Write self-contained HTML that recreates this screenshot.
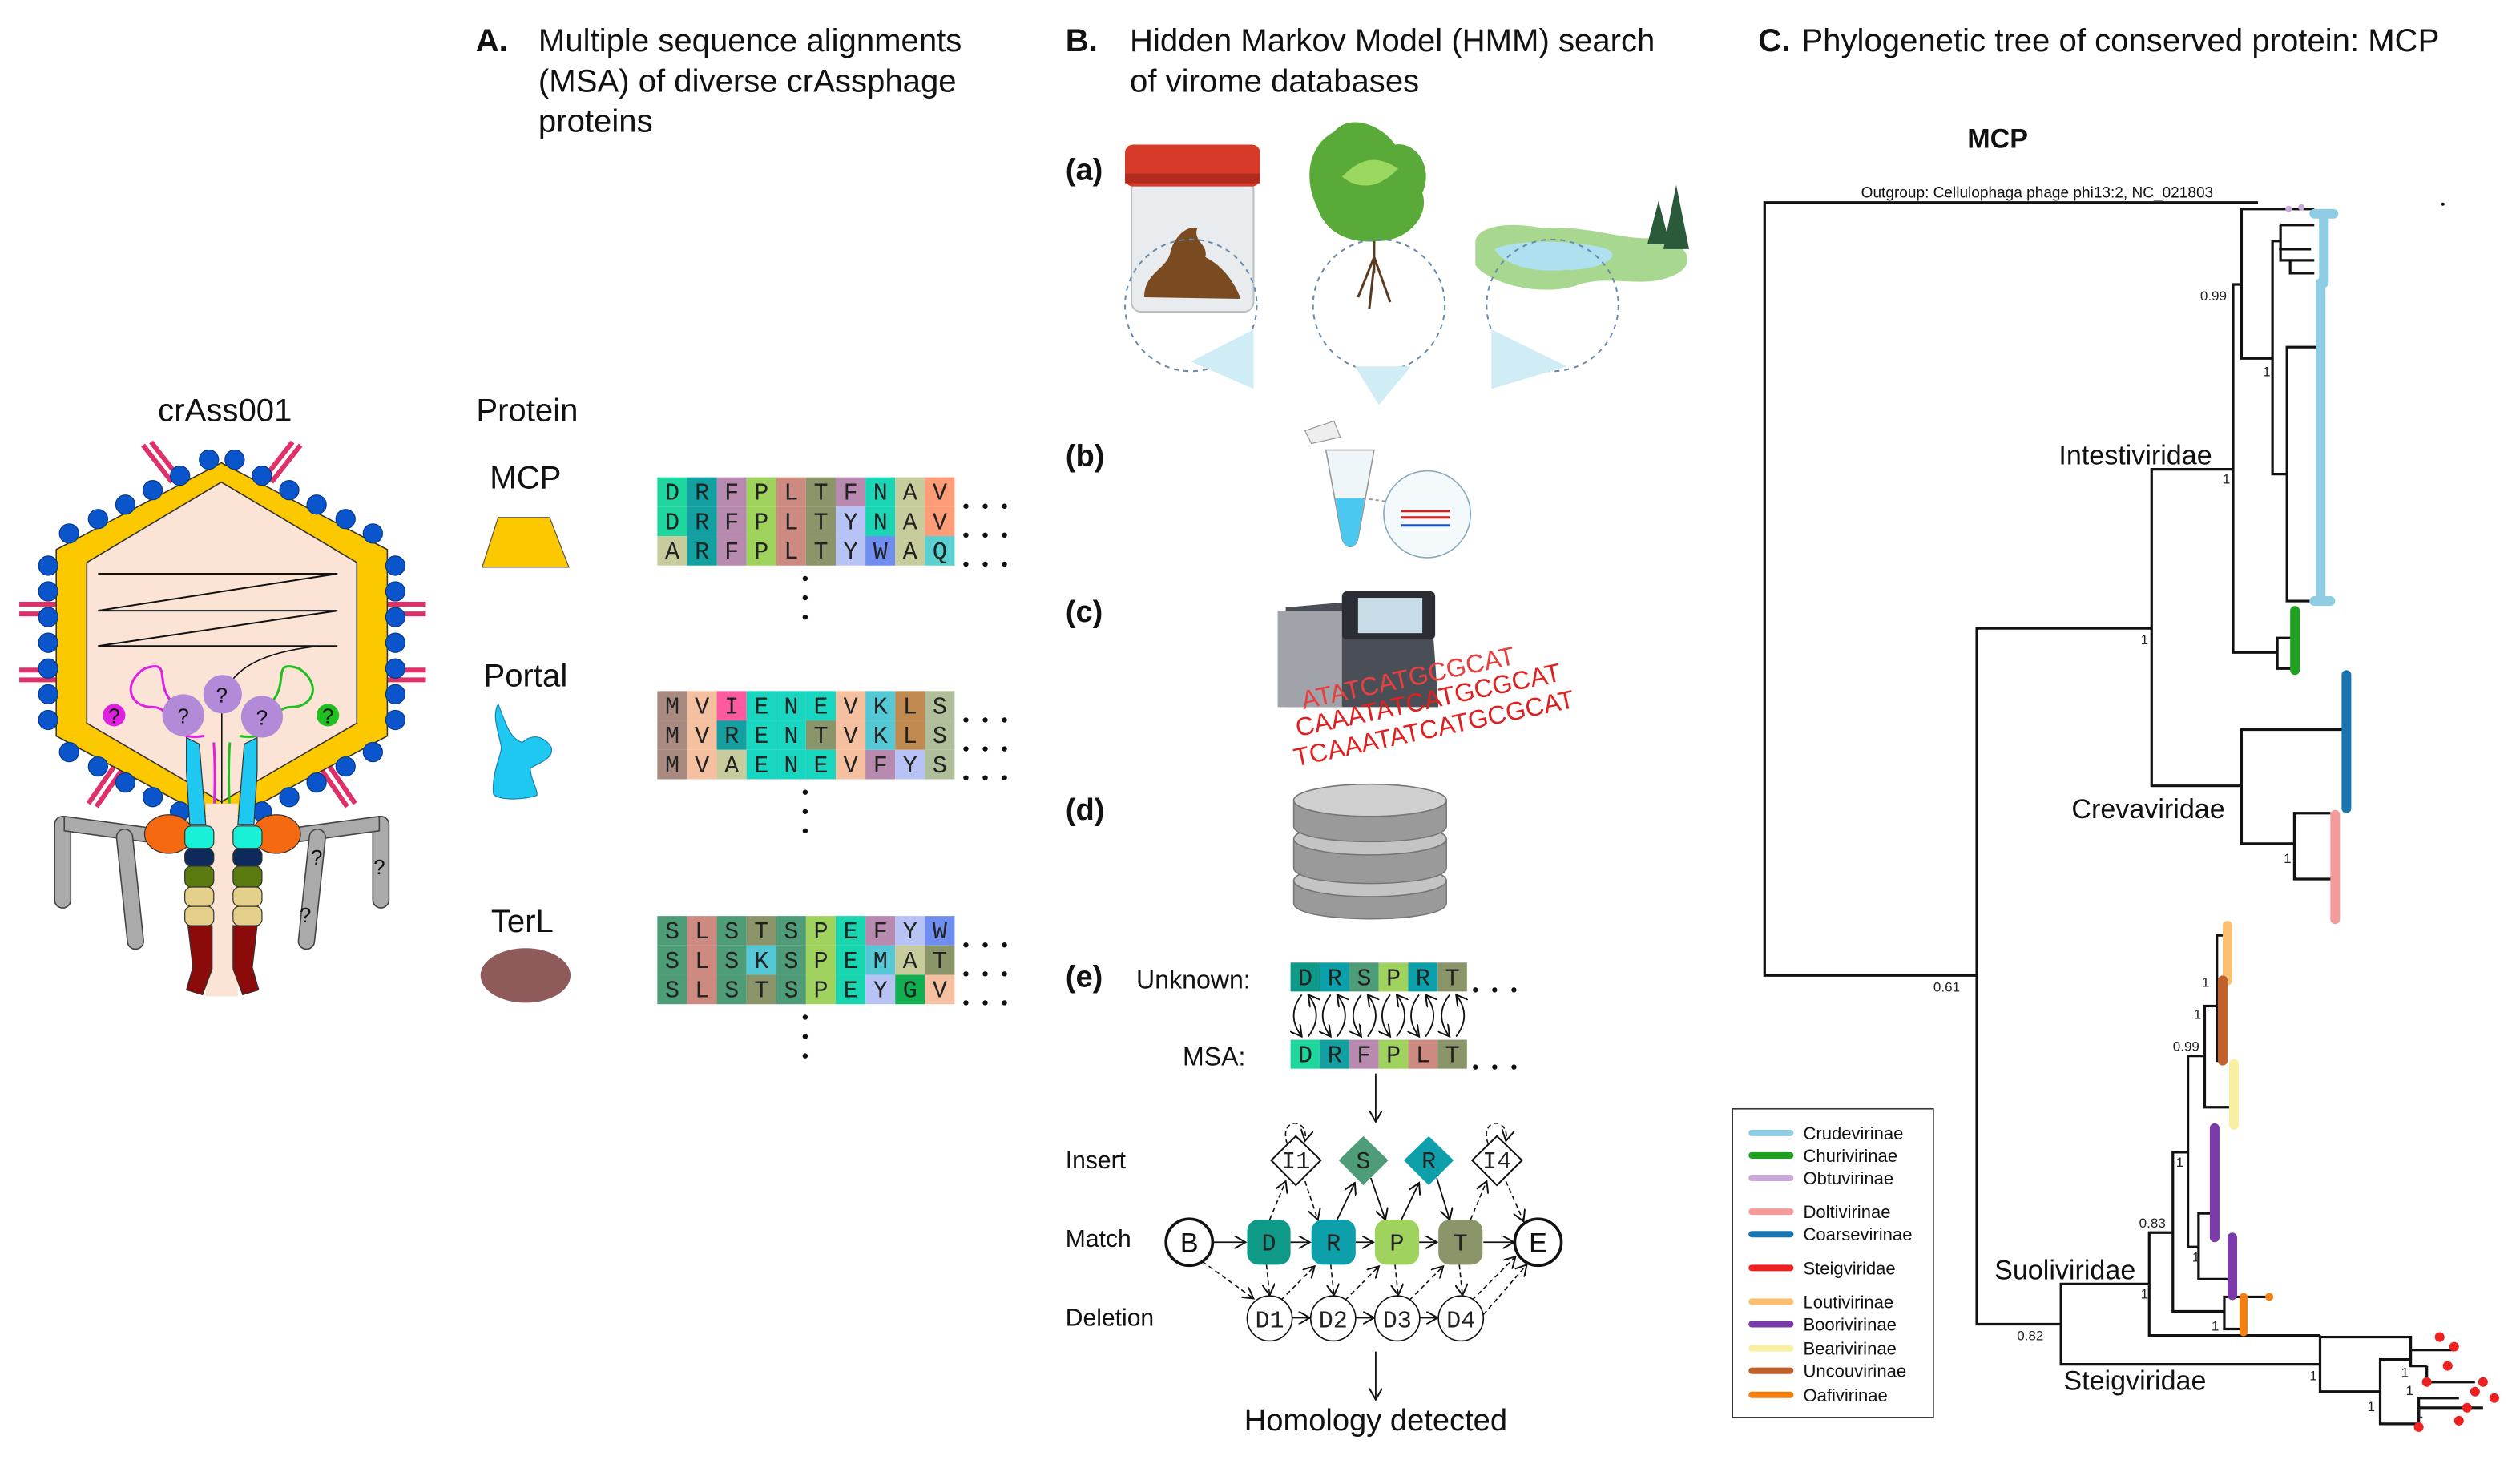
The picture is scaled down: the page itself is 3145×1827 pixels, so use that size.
<!DOCTYPE html>
<html><head><meta charset="utf-8"><style>
html,body{margin:0;padding:0;background:#fff}
svg{display:block}
text{font-family:"Liberation Sans",sans-serif}
.m{font-family:"Liberation Mono",monospace;font-size:15px;fill:#222;text-anchor:middle}
.h{font-size:20px;fill:#111}
.b{font-weight:bold}
</style></head><body>
<svg width="3145" height="1827" viewBox="0 0 1568 911" preserveAspectRatio="none" xmlns="http://www.w3.org/2000/svg">
<defs>
<marker id="ar" markerWidth="8" markerHeight="8" refX="7" refY="4" orient="auto" markerUnits="userSpaceOnUse"><path d="M0,0 L7,4 L0,8" fill="none" stroke="#111" stroke-width="1"/></marker>
</defs>
<rect width="1568" height="911" fill="#fff"/>

<!-- headers -->
<text x="296" y="32" class="h b">A.</text>
<text x="335" y="32" class="h">Multiple sequence alignments</text>
<text x="335" y="57" class="h">(MSA) of diverse crAssphage</text>
<text x="335" y="82" class="h">proteins</text>
<text x="663" y="32" class="h b">B.</text>
<text x="703" y="32" class="h">Hidden Markov Model (HMM) search</text>
<text x="703" y="57" class="h">of virome databases</text>
<text x="1094" y="32" class="h b">C.</text>
<text x="1121" y="32" class="h">Phylogenetic tree of conserved protein: MCP</text>

<!-- crAss001 virus -->
<text x="140" y="262" class="h" text-anchor="middle">crAss001</text>
<g stroke="#e0306a" stroke-width="3">
<line x1="89" y1="277" x2="107" y2="300"/><line x1="94" y1="275" x2="112" y2="298"/>
<line x1="187" y1="277" x2="169" y2="300"/><line x1="182" y1="275" x2="164" y2="298"/>
<line x1="12" y1="376" x2="38" y2="376"/><line x1="12" y1="382" x2="38" y2="382"/>
<line x1="12" y1="417" x2="38" y2="417"/><line x1="12" y1="423" x2="38" y2="423"/>
<line x1="238" y1="376" x2="265" y2="376"/><line x1="238" y1="382" x2="265" y2="382"/>
<line x1="238" y1="417" x2="265" y2="417"/><line x1="238" y1="423" x2="265" y2="423"/>
<line x1="55" y1="500" x2="71" y2="477"/><line x1="60" y1="502" x2="76" y2="479"/>
<line x1="221" y1="500" x2="205" y2="477"/><line x1="216" y1="502" x2="200" y2="479"/>
</g>
<polygon points="137.7,288 35,342 35,458 137.7,513 241,458 241,342" fill="#fcc800" stroke="#333" stroke-width="0.8"/>
<g fill="#0a55cc" stroke="#063a8a" stroke-width="0.6">
<circle cx="30" cy="352" r="6"/><circle cx="30" cy="368" r="6"/><circle cx="30" cy="384" r="6"/><circle cx="30" cy="400" r="6"/><circle cx="30" cy="416" r="6"/><circle cx="30" cy="432" r="6"/><circle cx="30" cy="448" r="6"/>
<circle cx="246" cy="352" r="6"/><circle cx="246" cy="368" r="6"/><circle cx="246" cy="384" r="6"/><circle cx="246" cy="400" r="6"/><circle cx="246" cy="416" r="6"/><circle cx="246" cy="432" r="6"/><circle cx="246" cy="448" r="6"/>
<circle cx="43" cy="332" r="6"/><circle cx="61" cy="323" r="6"/><circle cx="78" cy="314" r="6"/><circle cx="95" cy="305" r="6"/><circle cx="112" cy="296" r="6"/><circle cx="130" cy="286" r="6"/>
<circle cx="232" cy="332" r="6"/><circle cx="215" cy="323" r="6"/><circle cx="197" cy="314" r="6"/><circle cx="180" cy="305" r="6"/><circle cx="163" cy="296" r="6"/><circle cx="146" cy="286" r="6"/>
<circle cx="43" cy="468" r="6"/><circle cx="61" cy="477" r="6"/><circle cx="78" cy="487" r="6"/><circle cx="95" cy="496" r="6"/><circle cx="112" cy="505" r="6"/>
<circle cx="232" cy="468" r="6"/><circle cx="215" cy="477" r="6"/><circle cx="197" cy="487" r="6"/><circle cx="180" cy="496" r="6"/><circle cx="163" cy="505" r="6"/>
</g>
<polygon points="137.7,300 54,350 54,450 137.7,499 222,450 222,350" fill="#fbe3d6" stroke="#333" stroke-width="0.8"/>
<polyline points="61,357 210,357 61,380 210,380 61,402 210,402" fill="none" stroke="#111" stroke-width="1"/>
<path d="M199,402 C160,406 140,418 138,440 L138,560" fill="none" stroke="#111" stroke-width="0.8"/>
<path d="M133,462 C135,490 132,520 131,562 M108,438 C95,425 108,410 90,416 C76,425 80,440 95,440 C110,440 100,462 127,458" fill="none" stroke="#e020e0" stroke-width="1.5"/>
<path d="M143,462 C141,490 144,520 146,562 M168,438 C181,425 168,410 186,416 C200,425 196,440 181,440 C166,440 176,462 149,458" fill="none" stroke="#20c020" stroke-width="1.5"/>
<circle cx="138.5" cy="432" r="12" fill="#b28ad8"/><circle cx="114" cy="445" r="13" fill="#b28ad8"/><circle cx="163" cy="446" r="13" fill="#b28ad8"/>
<circle cx="71" cy="445" r="7" fill="#e020e0"/><circle cx="204" cy="445" r="7" fill="#20c020"/>
<g font-size="13" text-anchor="middle" fill="#111"><text x="138" y="437">?</text><text x="114" y="450">?</text><text x="163" y="451">?</text><text x="71" y="450">?</text><text x="204" y="450">?</text></g>
<!-- legs -->
<g fill="#aaa" stroke="#444" stroke-width="0.8">
<rect x="34" y="508" width="10" height="57" rx="5"/><polygon points="40,508 92,515 92,524 40,517"/><rect x="72" y="516" width="10" height="75" rx="5" transform="rotate(-6 77 516)"/>
<rect x="232" y="508" width="10" height="57" rx="5"/><polygon points="236,508 184,515 184,524 236,517"/><rect x="193" y="516" width="10" height="75" rx="5" transform="rotate(6 198 516)"/>
</g>
<g font-size="13" fill="#111" text-anchor="middle"><text x="197" y="538">?</text><text x="236" y="544">?</text><text x="190" y="574">?</text></g>
<!-- tail -->
<rect x="128" y="500" width="20" height="120" fill="#fbe3d6"/>
<path d="M116,459 L124,463 L128,513 L118,513 L116,480 Z" fill="#1ec8f0" stroke="#333" stroke-width="0.6"/>
<path d="M160,459 L152,463 L148,513 L158,513 L160,480 Z" fill="#1ec8f0" stroke="#333" stroke-width="0.6"/>
<ellipse cx="105" cy="519" rx="15" ry="12" fill="#f56a10" stroke="#333" stroke-width="0.6"/><ellipse cx="172" cy="519" rx="15" ry="12" fill="#f56a10" stroke="#333" stroke-width="0.6"/>
<g stroke="#333" stroke-width="0.6">
<rect x="115" y="514" width="18" height="14" rx="4" fill="#18f0d8"/><rect x="145" y="514" width="18" height="14" rx="4" fill="#18f0d8"/>
<rect x="115" y="528" width="18" height="11" rx="4" fill="#0d2a5a"/><rect x="145" y="528" width="18" height="11" rx="4" fill="#0d2a5a"/>
<rect x="115" y="539" width="18" height="13" rx="4" fill="#5a7a10"/><rect x="145" y="539" width="18" height="13" rx="4" fill="#5a7a10"/>
<rect x="115" y="552" width="18" height="12" rx="4" fill="#e4d08a"/><rect x="145" y="552" width="18" height="12" rx="4" fill="#e4d08a"/>
<rect x="115" y="564" width="18" height="12" rx="4" fill="#e4d08a"/><rect x="145" y="564" width="18" height="12" rx="4" fill="#e4d08a"/>
<path d="M117,576 L132,576 L132,603 L126,619 L116,616 L120,602 Z" fill="#8b0a0a"/>
<path d="M160,576 L145,576 L145,603 L151,619 L161,616 L157,602 Z" fill="#8b0a0a"/>
</g>

<!-- Protein column -->
<text x="328" y="262" class="h" text-anchor="middle">Protein</text>
<text x="327" y="304" class="h" text-anchor="middle">MCP</text>
<polygon points="310,322 342,322 354,353 300,353" fill="#fcc800" stroke="#555" stroke-width="0.6"/>
<text x="327" y="427" class="h" text-anchor="middle">Portal</text>
<path d="M310,438 C315,452 318,460 325,462 C333,455 340,460 343,465 C345,472 335,475 330,478 C330,485 335,492 334,495 C325,498 310,498 307,494 C306,480 312,470 312,465 C310,455 306,445 310,438 Z" fill="#1ec8f0" stroke="#1a80b0" stroke-width="0.6"/>
<text x="325" y="580" class="h" text-anchor="middle">TerL</text>
<ellipse cx="327" cy="607" rx="28" ry="17" fill="#8e5a5a"/>

<!-- MSA MCP -->
<g>
<rect x="409" y="297" width="18.5" height="18.3" fill="#1fd69e"/><rect x="427.5" y="297" width="18.5" height="18.3" fill="#14a0a0"/><rect x="446" y="297" width="18.5" height="18.3" fill="#b88ab0"/><rect x="464.5" y="297" width="18.5" height="18.3" fill="#9fd35e"/><rect x="483" y="297" width="18.5" height="18.3" fill="#cc8a80"/><rect x="501.5" y="297" width="18.5" height="18.3" fill="#8b956a"/><rect x="520" y="297" width="18.5" height="18.3" fill="#b88ab0"/><rect x="538.5" y="297" width="18.5" height="18.3" fill="#1ad6b4"/><rect x="557" y="297" width="18.5" height="18.3" fill="#c8cc9c"/><rect x="575.5" y="297" width="18.5" height="18.3" fill="#ff9c78"/>
<rect x="409" y="315.3" width="18.5" height="18.3" fill="#1fd69e"/><rect x="427.5" y="315.3" width="18.5" height="18.3" fill="#14a0a0"/><rect x="446" y="315.3" width="18.5" height="18.3" fill="#b88ab0"/><rect x="464.5" y="315.3" width="18.5" height="18.3" fill="#9fd35e"/><rect x="483" y="315.3" width="18.5" height="18.3" fill="#cc8a80"/><rect x="501.5" y="315.3" width="18.5" height="18.3" fill="#8b956a"/><rect x="520" y="315.3" width="18.5" height="18.3" fill="#b8c3f5"/><rect x="538.5" y="315.3" width="18.5" height="18.3" fill="#1ad6b4"/><rect x="557" y="315.3" width="18.5" height="18.3" fill="#c8cc9c"/><rect x="575.5" y="315.3" width="18.5" height="18.3" fill="#ff9c78"/>
<rect x="409" y="333.6" width="18.5" height="18.3" fill="#c8cc9c"/><rect x="427.5" y="333.6" width="18.5" height="18.3" fill="#14a0a0"/><rect x="446" y="333.6" width="18.5" height="18.3" fill="#b88ab0"/><rect x="464.5" y="333.6" width="18.5" height="18.3" fill="#9fd35e"/><rect x="483" y="333.6" width="18.5" height="18.3" fill="#cc8a80"/><rect x="501.5" y="333.6" width="18.5" height="18.3" fill="#8b956a"/><rect x="520" y="333.6" width="18.5" height="18.3" fill="#b8c3f5"/><rect x="538.5" y="333.6" width="18.5" height="18.3" fill="#6f8ef0"/><rect x="557" y="333.6" width="18.5" height="18.3" fill="#c8cc9c"/><rect x="575.5" y="333.6" width="18.5" height="18.3" fill="#5ad0d0"/>
<text class="m" x="418.3 436.8 455.3 473.8 492.3 510.8 529.3 547.8 566.3 584.8" y="311">DRFPLTFNAV</text>
<text class="m" x="418.3 436.8 455.3 473.8 492.3 510.8 529.3 547.8 566.3 584.8" y="329.3">DRFPLTYNAV</text>
<text class="m" x="418.3 436.8 455.3 473.8 492.3 510.8 529.3 547.8 566.3 584.8" y="347.6">ARFPLTYWAQ</text>
</g>
<!-- MSA Portal -->
<g>
<rect x="409" y="430" width="18.5" height="18.3" fill="#a88a80"/><rect x="427.5" y="430" width="18.5" height="18.3" fill="#f5c0a0"/><rect x="446" y="430" width="18.5" height="18.3" fill="#ff5aa0"/><rect x="464.5" y="430" width="18.5" height="18.3" fill="#19d6c0"/><rect x="483" y="430" width="18.5" height="18.3" fill="#19d6c0"/><rect x="501.5" y="430" width="18.5" height="18.3" fill="#19d6c0"/><rect x="520" y="430" width="18.5" height="18.3" fill="#f5c0a0"/><rect x="538.5" y="430" width="18.5" height="18.3" fill="#55c8d6"/><rect x="557" y="430" width="18.5" height="18.3" fill="#c08a50"/><rect x="575.5" y="430" width="18.5" height="18.3" fill="#b0bf9a"/>
<rect x="409" y="448.3" width="18.5" height="18.3" fill="#a88a80"/><rect x="427.5" y="448.3" width="18.5" height="18.3" fill="#f5c0a0"/><rect x="446" y="448.3" width="18.5" height="18.3" fill="#14a0a0"/><rect x="464.5" y="448.3" width="18.5" height="18.3" fill="#19d6c0"/><rect x="483" y="448.3" width="18.5" height="18.3" fill="#19d6c0"/><rect x="501.5" y="448.3" width="18.5" height="18.3" fill="#8b956a"/><rect x="520" y="448.3" width="18.5" height="18.3" fill="#f5c0a0"/><rect x="538.5" y="448.3" width="18.5" height="18.3" fill="#55c8d6"/><rect x="557" y="448.3" width="18.5" height="18.3" fill="#c08a50"/><rect x="575.5" y="448.3" width="18.5" height="18.3" fill="#b0bf9a"/>
<rect x="409" y="466.6" width="18.5" height="18.3" fill="#a88a80"/><rect x="427.5" y="466.6" width="18.5" height="18.3" fill="#f5c0a0"/><rect x="446" y="466.6" width="18.5" height="18.3" fill="#c8cc9c"/><rect x="464.5" y="466.6" width="18.5" height="18.3" fill="#19d6c0"/><rect x="483" y="466.6" width="18.5" height="18.3" fill="#19d6c0"/><rect x="501.5" y="466.6" width="18.5" height="18.3" fill="#19d6c0"/><rect x="520" y="466.6" width="18.5" height="18.3" fill="#f5c0a0"/><rect x="538.5" y="466.6" width="18.5" height="18.3" fill="#b88ab0"/><rect x="557" y="466.6" width="18.5" height="18.3" fill="#b8c3f5"/><rect x="575.5" y="466.6" width="18.5" height="18.3" fill="#b0bf9a"/>
<text class="m" x="418.3 436.8 455.3 473.8 492.3 510.8 529.3 547.8 566.3 584.8" y="444">MVIENEVKLS</text>
<text class="m" x="418.3 436.8 455.3 473.8 492.3 510.8 529.3 547.8 566.3 584.8" y="462.3">MVRENTVKLS</text>
<text class="m" x="418.3 436.8 455.3 473.8 492.3 510.8 529.3 547.8 566.3 584.8" y="480.6">MVAENEVFYS</text>
</g>
<!-- MSA TerL -->
<g>
<rect x="409" y="570" width="18.5" height="18.3" fill="#4f9c78"/><rect x="427.5" y="570" width="18.5" height="18.3" fill="#cc8a80"/><rect x="446" y="570" width="18.5" height="18.3" fill="#4f9c78"/><rect x="464.5" y="570" width="18.5" height="18.3" fill="#8b956a"/><rect x="483" y="570" width="18.5" height="18.3" fill="#4f9c78"/><rect x="501.5" y="570" width="18.5" height="18.3" fill="#9fd35e"/><rect x="520" y="570" width="18.5" height="18.3" fill="#19d6b0"/><rect x="538.5" y="570" width="18.5" height="18.3" fill="#b88ab0"/><rect x="557" y="570" width="18.5" height="18.3" fill="#b8c3f5"/><rect x="575.5" y="570" width="18.5" height="18.3" fill="#6f8ef0"/>
<rect x="409" y="588.3" width="18.5" height="18.3" fill="#4f9c78"/><rect x="427.5" y="588.3" width="18.5" height="18.3" fill="#cc8a80"/><rect x="446" y="588.3" width="18.5" height="18.3" fill="#4f9c78"/><rect x="464.5" y="588.3" width="18.5" height="18.3" fill="#55c8d6"/><rect x="483" y="588.3" width="18.5" height="18.3" fill="#4f9c78"/><rect x="501.5" y="588.3" width="18.5" height="18.3" fill="#9fd35e"/><rect x="520" y="588.3" width="18.5" height="18.3" fill="#19d6b0"/><rect x="538.5" y="588.3" width="18.5" height="18.3" fill="#55c8d6"/><rect x="557" y="588.3" width="18.5" height="18.3" fill="#c8cc9c"/><rect x="575.5" y="588.3" width="18.5" height="18.3" fill="#8b956a"/>
<rect x="409" y="606.6" width="18.5" height="18.3" fill="#4f9c78"/><rect x="427.5" y="606.6" width="18.5" height="18.3" fill="#cc8a80"/><rect x="446" y="606.6" width="18.5" height="18.3" fill="#4f9c78"/><rect x="464.5" y="606.6" width="18.5" height="18.3" fill="#8b956a"/><rect x="483" y="606.6" width="18.5" height="18.3" fill="#4f9c78"/><rect x="501.5" y="606.6" width="18.5" height="18.3" fill="#9fd35e"/><rect x="520" y="606.6" width="18.5" height="18.3" fill="#19d6b0"/><rect x="538.5" y="606.6" width="18.5" height="18.3" fill="#b8c3f5"/><rect x="557" y="606.6" width="18.5" height="18.3" fill="#10b050"/><rect x="575.5" y="606.6" width="18.5" height="18.3" fill="#f5c0a0"/>
<text class="m" x="418.3 436.8 455.3 473.8 492.3 510.8 529.3 547.8 566.3 584.8" y="584">SLSTSPEFYW</text>
<text class="m" x="418.3 436.8 455.3 473.8 492.3 510.8 529.3 547.8 566.3 584.8" y="602.3">SLSKSPEMAT</text>
<text class="m" x="418.3 436.8 455.3 473.8 492.3 510.8 529.3 547.8 566.3 584.8" y="620.6">SLSTSPEYGV</text>
</g>
<g fill="#111">
<circle cx="601" cy="315" r="1.6"/><circle cx="613" cy="315" r="1.6"/><circle cx="625" cy="315" r="1.6"/>
<circle cx="601" cy="333" r="1.6"/><circle cx="613" cy="333" r="1.6"/><circle cx="625" cy="333" r="1.6"/>
<circle cx="601" cy="351" r="1.6"/><circle cx="613" cy="351" r="1.6"/><circle cx="625" cy="351" r="1.6"/>
<circle cx="501" cy="360" r="1.6"/><circle cx="501" cy="372" r="1.6"/><circle cx="501" cy="384" r="1.6"/>
<circle cx="601" cy="448" r="1.6"/><circle cx="613" cy="448" r="1.6"/><circle cx="625" cy="448" r="1.6"/>
<circle cx="601" cy="466" r="1.6"/><circle cx="613" cy="466" r="1.6"/><circle cx="625" cy="466" r="1.6"/>
<circle cx="601" cy="484" r="1.6"/><circle cx="613" cy="484" r="1.6"/><circle cx="625" cy="484" r="1.6"/>
<circle cx="501" cy="493" r="1.6"/><circle cx="501" cy="505" r="1.6"/><circle cx="501" cy="517" r="1.6"/>
<circle cx="601" cy="588" r="1.6"/><circle cx="613" cy="588" r="1.6"/><circle cx="625" cy="588" r="1.6"/>
<circle cx="601" cy="606" r="1.6"/><circle cx="613" cy="606" r="1.6"/><circle cx="625" cy="606" r="1.6"/>
<circle cx="601" cy="624" r="1.6"/><circle cx="613" cy="624" r="1.6"/><circle cx="625" cy="624" r="1.6"/>
<circle cx="501" cy="633" r="1.6"/><circle cx="501" cy="645" r="1.6"/><circle cx="501" cy="657" r="1.6"/>
</g>

<!-- Panel B -->
<g font-size="19" font-weight="bold" fill="#111">
<text x="663" y="112">(a)</text><text x="663" y="290">(b)</text><text x="663" y="387">(c)</text><text x="663" y="510">(d)</text><text x="663" y="614">(e)</text>
</g>
<rect x="704" y="112" width="76" height="82" rx="6" fill="#e8ecee" stroke="#b8c0c4" stroke-width="1"/>
<rect x="700" y="90" width="84" height="26" rx="5" fill="#d83a2a"/>
<rect x="700" y="108" width="84" height="6" fill="#b02a1e"/>
<path d="M712,185 C712,170 725,168 728,158 C730,148 738,140 745,142 C742,150 752,152 750,160 C760,165 768,175 772,186 Z" fill="#7a4a20"/>
<path d="M820,130 C810,110 815,90 830,82 C840,70 860,78 868,90 C882,88 892,105 885,120 C890,135 875,150 858,150 C840,152 825,145 820,130 Z" fill="#5aaa3a"/>
<path d="M835,110 C845,100 855,95 870,105 C860,115 848,120 835,110Z" fill="#9ad860"/>
<path d="M855,150 L855,170 M855,160 L845,185 M855,160 L865,188 M855,165 L852,192" stroke="#5a3a20" stroke-width="1.5" fill="none"/>
<path d="M918,150 C920,140 940,138 960,142 C990,140 1010,150 1030,148 C1050,150 1058,165 1040,172 C1020,180 1000,170 980,178 C955,185 925,175 918,165 Z" fill="#a8d890"/>
<path d="M930,155 C945,148 985,150 1000,155 C1010,160 995,168 975,168 C955,170 935,165 930,155Z" fill="#aee0f0"/>
<polygon points="1035,155 1043,115 1051,155" fill="#2a5a3a"/><polygon points="1025,152 1032,125 1039,152" fill="#2a5a3a"/>
<g fill="none" stroke="#6a8aa8" stroke-width="1" stroke-dasharray="3,3">
<circle cx="741" cy="190" r="41"/><circle cx="858" cy="190" r="41"/><circle cx="966" cy="190" r="41"/>
</g>
<g fill="#d0ecf4"><polygon points="741,225 780,205 780,242"/><polygon points="843,228 878,228 858,252"/><polygon points="928,205 975,228 928,242"/></g>
<path d="M825,280 L855,280 L845,335 C843,342 837,342 835,335 Z" fill="#eef6fa" stroke="#999" stroke-width="0.8"/>
<path d="M831,310 L849,310 L845,335 C843,342 837,342 835,335 Z" fill="#4ac8f0"/>
<path d="M812,268 L830,262 L834,272 L816,276 Z" fill="#eee" stroke="#999" stroke-width="0.6"/>
<circle cx="888" cy="320" r="27" fill="#f4fafc" stroke="#8ab" stroke-width="0.8"/>
<line x1="848" y1="310" x2="862" y2="312" stroke="#999" stroke-dasharray="2,2"/>
<path d="M872,318 L902,318 M872,322 L902,322" stroke="#d02020" stroke-width="1.5"/>
<path d="M872,327 L902,327" stroke="#2050c0" stroke-width="1.5"/>
<path d="M800,378 L890,370 L895,440 L800,440 Z" fill="#4a4e56"/>
<rect x="835" y="368" width="58" height="30" rx="3" fill="#2a2e34"/>
<rect x="845" y="372" width="40" height="22" fill="#c8dce8"/>
<rect x="795" y="380" width="40" height="60" fill="#a0a4aa"/>
<g fill="#e02020" transform="rotate(-12 870 440)">
<text x="805" y="445" font-size="16">CAAATATCATGCGCAT</text>
<text x="800" y="463" font-size="16">TCAAATATCATGCGCAT</text>
<text x="812" y="429" font-size="16" fill="#e84040">ATATCATGCGCAT</text>
</g>
<g stroke="#777" stroke-width="0.8">
<path d="M805,548 L805,562 C805,575 900,575 900,562 L900,548 Z" fill="#9a9a9a"/>
<ellipse cx="852.5" cy="548" rx="47.5" ry="10" fill="#c4c4c4"/>
<path d="M805,522 L805,540 C805,553 900,553 900,540 L900,522 Z" fill="#9a9a9a"/>
<ellipse cx="852.5" cy="522" rx="47.5" ry="10" fill="#c4c4c4"/>
<path d="M805,498 L805,514 C805,527 900,527 900,514 L900,498 Z" fill="#9a9a9a"/>
<ellipse cx="852.5" cy="498" rx="47.5" ry="10" fill="#d0d0d0"/>
</g>
<!-- (e) -->
<text x="707" y="615" font-size="16" fill="#111">Unknown:</text>
<text x="775" y="663" font-size="16" fill="#111" text-anchor="end">MSA:</text>
<rect x="803" y="599" width="18.3" height="18" fill="#0f9a88"/><rect x="821.3" y="599" width="18.3" height="18" fill="#0ea0aa"/><rect x="839.6" y="599" width="18.3" height="18" fill="#4f9c78"/><rect x="857.9" y="599" width="18.3" height="18" fill="#9fd35e"/><rect x="876.2" y="599" width="18.3" height="18" fill="#0ea0aa"/><rect x="894.5" y="599" width="18.3" height="18" fill="#8b956a"/>
<rect x="803" y="647" width="18.3" height="18" fill="#1fd69e"/><rect x="821.3" y="647" width="18.3" height="18" fill="#14a0a0"/><rect x="839.6" y="647" width="18.3" height="18" fill="#b88ab0"/><rect x="857.9" y="647" width="18.3" height="18" fill="#9fd35e"/><rect x="876.2" y="647" width="18.3" height="18" fill="#cc8a80"/><rect x="894.5" y="647" width="18.3" height="18" fill="#8b956a"/>
<text class="m" x="812.2 830.5 848.8 867.1 885.4 903.7" y="613">DRSPRT</text>
<text class="m" x="812.2 830.5 848.8 867.1 885.4 903.7" y="661">DRFPLT</text>
<g fill="#111"><circle cx="918" cy="616" r="1.6"/><circle cx="930" cy="616" r="1.6"/><circle cx="942" cy="616" r="1.6"/><circle cx="918" cy="664" r="1.6"/><circle cx="930" cy="664" r="1.6"/><circle cx="942" cy="664" r="1.6"/></g>
<g fill="none" stroke="#111" stroke-width="0.9" marker-end="url(#ar)">
<path d="M810,619 Q800,632 810,645"/><path d="M814,645 Q824,632 814,619"/>
<path d="M828,619 Q818,632 828,645"/><path d="M832,645 Q842,632 832,619"/>
<path d="M847,619 Q837,632 847,645"/><path d="M851,645 Q861,632 851,619"/>
<path d="M865,619 Q855,632 865,645"/><path d="M869,645 Q879,632 869,619"/>
<path d="M883,619 Q873,632 883,645"/><path d="M887,645 Q897,632 887,619"/>
<path d="M902,619 Q892,632 902,645"/><path d="M906,645 Q916,632 906,619"/>
<line x1="856" y1="668" x2="856" y2="698"/>
<line x1="856" y1="841" x2="856" y2="871"/>
<line x1="754.7" y1="773" x2="775" y2="773"/><line x1="803" y1="773" x2="815" y2="773"/><line x1="843.5" y1="773" x2="854.5" y2="773"/><line x1="883" y1="773" x2="894" y2="773"/><line x1="923" y1="773" x2="942" y2="773"/>
<line x1="804" y1="820" x2="815" y2="820"/><line x1="843.5" y1="820" x2="855" y2="820"/><line x1="883.4" y1="820" x2="894.5" y2="820"/>
<line x1="832" y1="759" x2="843" y2="736"/><line x1="853" y1="733" x2="862" y2="759"/><line x1="872" y1="759" x2="883" y2="736"/><line x1="894" y1="733" x2="902" y2="759"/>
</g>
<g fill="none" stroke="#111" stroke-width="0.8" stroke-dasharray="3,2" marker-end="url(#ar)">
<line x1="790" y1="759" x2="800" y2="735"/><line x1="812" y1="735" x2="820" y2="759"/>
<line x1="915" y1="759" x2="925" y2="735"/><line x1="937" y1="735" x2="948" y2="760"/>
<path d="M801,712 C795,695 815,695 812,710"/><path d="M926,712 C920,695 940,695 937,710"/>
<line x1="748" y1="785" x2="780" y2="808"/><line x1="788" y1="787" x2="790" y2="806"/><line x1="797" y1="809" x2="818" y2="788"/>
<line x1="828" y1="787" x2="830" y2="806"/><line x1="837" y1="809" x2="858" y2="788"/>
<line x1="868" y1="787" x2="870" y2="806"/><line x1="877" y1="809" x2="898" y2="788"/>
<line x1="908" y1="787" x2="910" y2="806"/><line x1="916" y1="809" x2="943" y2="782"/><line x1="923" y1="818" x2="950" y2="787"/>
</g>
<g stroke="#111" stroke-width="1">
<polygon points="806.3,707 821.8,722 806.3,737.5 791,722" fill="#fff"/>
<polygon points="848.3,707 863.8,722 848.3,737.5 833,722" fill="#4f9c78" stroke="none"/>
<polygon points="889,707 904.5,722 889,737.5 873.5,722" fill="#0ea0aa" stroke="none"/>
<polygon points="931.4,707 947,722 931.4,737.5 916,722" fill="#fff"/>
</g>
<circle cx="740" cy="773" r="14.5" fill="#fff" stroke="#111" stroke-width="1.8"/>
<circle cx="957" cy="773" r="14.5" fill="#fff" stroke="#111" stroke-width="1.8"/>
<rect x="776" y="759" width="27" height="28" rx="7" fill="#0f9a88"/>
<rect x="816" y="759" width="27.5" height="28" rx="7" fill="#0ea0aa"/>
<rect x="855.5" y="759" width="27.5" height="28" rx="7" fill="#9fd35e"/>
<rect x="895" y="759" width="27.5" height="28" rx="7" fill="#8b956a"/>
<g fill="#fff" stroke="#111" stroke-width="0.8"><circle cx="790" cy="820.4" r="14"/><circle cx="829.5" cy="820.4" r="14"/><circle cx="869.4" cy="820.4" r="14"/><circle cx="909" cy="820.4" r="14"/></g>
<text class="m" x="806.3" y="727">I1</text><text class="m" x="848.3" y="727">S</text><text class="m" x="889" y="727">R</text><text class="m" x="931.4" y="727">I4</text>
<text class="m" x="789.5" y="778">D</text><text class="m" x="829.7" y="778">R</text><text class="m" x="869.2" y="778">P</text><text class="m" x="908.7" y="778">T</text>
<text class="m" x="790" y="826">D1</text><text class="m" x="829.5" y="826">D2</text><text class="m" x="869.4" y="826">D3</text><text class="m" x="909" y="826">D4</text>
<text x="740" y="779" font-size="17" text-anchor="middle" fill="#111">B</text>
<text x="957" y="779" font-size="17" text-anchor="middle" fill="#111">E</text>
<g font-size="15" fill="#111"><text x="663" y="727">Insert</text><text x="663" y="776">Match</text><text x="663" y="825">Deletion</text></g>
<text x="856" y="890" font-size="19" text-anchor="middle" fill="#111">Homology detected</text>

<!-- Panel C tree -->
<text x="1243" y="92" font-size="17" font-weight="bold" text-anchor="middle" fill="#111">MCP</text>
<text x="1158" y="123" font-size="9.5" fill="#111">Outgroup: Cellulophaga phage phi13:2, NC_021803</text>
<circle cx="1520" cy="127" r="1" fill="#111"/>
<g fill="none" stroke="#111" stroke-width="1.6">
<path d="M1405,126 L1098,126 L1098,607 L1230,607"/>
<path d="M1338.8,391 L1230,391 L1230,824 L1282.4,824"/>
<path d="M1389.5,292 L1338.8,292 L1338.8,489 L1394.7,489"/>
<path d="M1394.7,177 L1389.5,177 L1389.5,406 L1417,406"/>
<path d="M1440,130 L1394.7,130 L1394.7,223 L1414,223"/>
<path d="M1419,150 L1414,150 L1414,295 L1423,295"/>
<path d="M1442,216 L1423,216 L1423,374 L1442,374"/>
<path d="M1419,140 L1419,162 L1440,162 M1419,140 L1440,140 M1425,162 L1425,170 L1440,170 M1418,155 L1438,155"/>
<path d="M1428,397 L1417,397 L1417,416 L1428,416"/>
<path d="M1458.8,454 L1394.7,454 L1394.7,525 L1427.6,525"/>
<path d="M1450,506 L1427.6,506 L1427.6,547 L1452,547"/>
<path d="M1337.3,799 L1282.4,799 L1282.4,849 L1443.6,849"/>
<path d="M1352,767 L1337.3,767 L1337.3,831 L1443.6,831"/>
<path d="M1361.4,717 L1352,717 L1352,816 L1384,816"/>
<path d="M1371.8,657 L1361.4,657 L1361.4,776 L1368,776"/>
<path d="M1379.4,626 L1371.8,626 L1371.8,689 L1390,689"/>
<path d="M1386,582 L1379.4,582 L1379.4,660 L1385,660"/>
<path d="M1378,755 L1368,755 L1368,796 L1388,796"/>
<path d="M1396,807 L1384,807 L1384,827 L1396,827 M1396,807 L1412,807"/>
<path d="M1443.6,831 L1443.6,866 L1481,866 M1443.6,832 L1500,832 L1500,850 L1510,850 M1481,866 L1481,846 L1500,846 M1481,866 L1481,886 L1505,886 M1500,840 L1526,840 M1505,886 L1505,870 L1530,870 M1510,850 L1510,860 L1540,860 M1505,876 L1545,876"/>
</g>
<g stroke-linecap="round" fill="none">
<path d="M1440,133 L1452,133 M1446,133 L1446,176 M1444,176 L1444,374 M1440,374 L1450,374" stroke="#8ecde4" stroke-width="6"/>
<path d="M1428,380 L1428,417" stroke="#20a020" stroke-width="6"/>
<path d="M1460,420 L1460,503" stroke="#1a74ae" stroke-width="6"/>
<path d="M1453,507 L1453,572" stroke="#f59a9a" stroke-width="6"/>
<path d="M1386,576 L1386,610" stroke="#f8c070" stroke-width="6"/>
<path d="M1383,610 L1383,660" stroke="#c0602a" stroke-width="6"/>
<path d="M1390,662 L1390,700" stroke="#f8f0a0" stroke-width="6"/>
<path d="M1378,702 L1378,770 M1389,770 L1389,806" stroke="#7a3aa8" stroke-width="6"/>
<path d="M1396,807 L1396,829" stroke="#f58010" stroke-width="5"/>
</g>
<circle cx="1412" cy="807" r="2.5" fill="#f58010"/>
<g fill="#f02020"><circle cx="1518" cy="832" r="3"/><circle cx="1527" cy="838" r="3"/><circle cx="1523" cy="850" r="3"/><circle cx="1545" cy="860" r="3"/><circle cx="1552" cy="870" r="3"/><circle cx="1535" cy="876" r="3"/><circle cx="1530" cy="884" r="3"/><circle cx="1510" cy="860" r="3"/><circle cx="1505" cy="888" r="3"/><circle cx="1540" cy="866" r="3"/></g>
<circle cx="1424" cy="130" r="2" fill="#c8a8d8"/><circle cx="1432" cy="129" r="2" fill="#c8a8d8"/>
<g font-size="8.5" fill="#222">
<text x="1369" y="187">0.99</text><text x="1408" y="234">1</text><text x="1383" y="301">1</text><text x="1332" y="401">1</text>
<text x="1203" y="617">0.61</text><text x="1421" y="537">1</text><text x="1370" y="614">1</text><text x="1365" y="634">1</text>
<text x="1352" y="654">0.99</text><text x="1354" y="726">1</text><text x="1331" y="764">0.83</text><text x="1364" y="785">1</text>
<text x="1332" y="808">1</text><text x="1376" y="828">1</text><text x="1255" y="834">0.82</text><text x="1437" y="859">1</text>
<text x="1473" y="878">1</text><text x="1494" y="857">1</text><text x="1497" y="868">1</text><text x="1503" y="882">1</text>
</g>
<g font-size="17" fill="#111">
<text x="1281" y="289">Intestiviridae</text><text x="1289" y="509">Crevaviridae</text>
<text x="1241" y="796">Suoliviridae</text><text x="1284" y="865">Steigviridae</text>
</g>
<rect x="1078" y="690" width="125" height="192" fill="#fff" stroke="#333" stroke-width="0.8"/>
<g stroke-width="4" stroke-linecap="round">
<line x1="1090" y1="705" x2="1114" y2="705" stroke="#8ecde4"/><line x1="1090" y1="719" x2="1114" y2="719" stroke="#20a020"/><line x1="1090" y1="733" x2="1114" y2="733" stroke="#c8a8d8"/>
<line x1="1090" y1="754" x2="1114" y2="754" stroke="#f59a9a"/><line x1="1090" y1="768" x2="1114" y2="768" stroke="#1a74ae"/>
<line x1="1090" y1="789" x2="1114" y2="789" stroke="#f02020"/>
<line x1="1090" y1="810" x2="1114" y2="810" stroke="#f8c070"/><line x1="1090" y1="824" x2="1114" y2="824" stroke="#7a3aa8"/><line x1="1090" y1="839" x2="1114" y2="839" stroke="#f8f0a0"/><line x1="1090" y1="853" x2="1114" y2="853" stroke="#c0602a"/><line x1="1090" y1="868" x2="1114" y2="868" stroke="#f58010"/>
</g>
<g font-size="11" fill="#111">
<text x="1122" y="709">Crudevirinae</text><text x="1122" y="723">Churivirinae</text><text x="1122" y="737">Obtuvirinae</text>
<text x="1122" y="758">Doltivirinae</text><text x="1122" y="772">Coarsevirinae</text><text x="1122" y="793">Steigviridae</text>
<text x="1122" y="814">Loutivirinae</text><text x="1122" y="828">Boorivirinae</text><text x="1122" y="843">Bearivirinae</text><text x="1122" y="857">Uncouvirinae</text><text x="1122" y="872">Oafivirinae</text>
</g>
</svg>
</body></html>
